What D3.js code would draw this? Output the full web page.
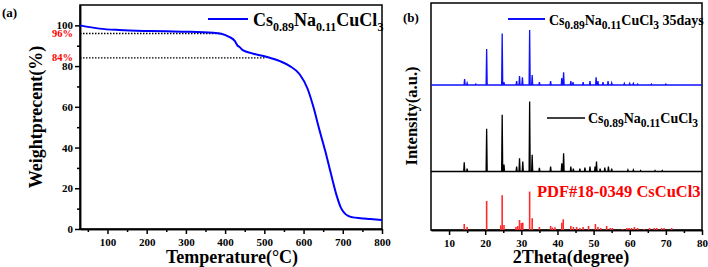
<!DOCTYPE html>
<html>
<head>
<meta charset="utf-8">
<script src="https://cdn.jsdelivr.net/npm/d3@7"></script>
<style>
  body { margin: 0; background: #fff; }
  svg text { font-family: "Liberation Serif", "Times New Roman", serif; font-weight: bold; }
  .axis path, .axis line { stroke: #000; stroke-width: 1.5; }
  .axis text { font-size: 11px; fill: #000; }
</style>
</head>
<body>
<div id="chart"></div>
<script>
// TGA data, panel (a)
var tga_temp   = [30, 80, 130, 210, 290, 370, 390, 410, 425, 432, 436, 445, 470, 505, 540, 565, 590, 610, 625, 640, 655, 670, 685, 695, 705, 715, 726, 745, 770, 800];
var tga_weight = [100, 98.4, 97.7, 97.2, 96.9, 96.4, 95.9, 94.4, 92.3, 90, 89.5, 87.8, 86.2, 84.6, 82.4, 80, 76, 69, 60, 49, 38.5, 27, 16, 10.5, 7.7, 6.3, 5.7, 5.3, 4.9, 4.4];
var tga_marks  = [96, 84];                 // dotted guide levels
var tga_mark_end = [390, 505];             // temperature where each guide stops
var tga_xticks = [100, 200, 300, 400, 500, 600, 700, 800];
var tga_yticks = [0, 20, 40, 60, 80, 100];

// XRD data, panel (b): [2theta, intensity a.u.]
var xrd_35days = [[14.3,6],[15.0,2],[17.4,1],[20.4,36],[24.7,51.6],[25.2,3],[28.7,4],[29.5,9],[30.3,7.6],[32.3,55],[33.0,10],[35.0,3],[38.1,4],[41.2,7],[41.7,12.6],[43.7,4],[44.3,3],[47.1,3],[49.0,4],[50.7,7.6],[51.2,4],[52.6,3],[54.0,4],[55.0,2],[58.5,1.5],[60.0,1.5],[61.0,1.5],[62.2,1],[66.0,1],[70.0,1]];
var xrd_fresh  = [[14.2,9.3],[15.0,3],[20.4,42.7],[24.7,56.7],[25.2,7],[28.7,5],[29.5,13.3],[30.4,10],[32.3,70],[33.0,16.7],[35.0,3.7],[38.1,5],[41.2,8.3],[41.7,18.3],[43.7,5],[44.4,3],[46.2,3],[47.6,4],[49.0,5],[50.4,5],[50.8,10],[51.8,3],[53.1,4],[54.1,5],[55.0,3],[59.5,1.5],[61.0,1.5],[63.0,1],[67.0,1],[69.0,1]];
var xrd_pdf    = [[14.2,6],[15.0,3],[20.4,29],[24.3,4.7],[24.7,34.7],[25.2,5],[28.5,3],[29.0,4],[29.5,10],[30.0,7],[30.4,7.3],[32.3,38.4],[33.0,11.7],[35.0,3],[38.1,4],[38.6,2.5],[39.3,2.7],[41.2,7.3],[41.6,10.7],[43.7,4],[44.4,3],[45.3,3],[46.2,2],[47.1,3],[48.6,4],[50.5,6],[51.2,3],[52.0,2],[53.6,4],[54.6,2],[55.2,2],[58.0,1],[59.2,2],[59.8,2],[60.5,2],[61.3,3],[62.2,2],[64.0,1],[65.5,2],[66.8,2],[67.5,2],[68.8,2],[69.5,2],[71.6,2]];
var xrd_offsets = [145, 58.5, 0];          // vertical stacking (a.u.)
var xrd_xticks = [10, 20, 30, 40, 50, 60, 70, 80];

var svg = d3.select("#chart").append("svg").attr("width", 708).attr("height", 267);

// ---------- panel (a) ----------
var xA = d3.scaleLinear().domain([30, 800]).range([80, 382]);
var yA = d3.scaleLinear().domain([0, 110]).range([229, 5]);

svg.append("rect").attr("x", 80).attr("y", 5).attr("width", 302).attr("height", 224)
   .attr("fill", "none").attr("stroke", "#000").attr("stroke-width", 1.5);

svg.append("g").attr("class", "axis").attr("transform", "translate(0,229)")
   .call(d3.axisBottom(xA).tickValues(tga_xticks.map(function(d){ return d - 50; })).tickSize(3).tickFormat("").tickSizeOuter(0));
svg.append("g").attr("class", "axis").attr("transform", "translate(0,229)")
   .call(d3.axisBottom(xA).tickValues(tga_xticks).tickSize(5).tickPadding(4).tickSizeOuter(0));
svg.append("g").attr("class", "axis").attr("transform", "translate(80,0)")
   .call(d3.axisLeft(yA).tickValues(tga_yticks.slice(0, 5).map(function(d){ return d + 10; })).tickSize(3).tickFormat("").tickSizeOuter(0));
svg.append("g").attr("class", "axis").attr("transform", "translate(80,0)")
   .call(d3.axisLeft(yA).tickValues(tga_yticks).tickSize(5).tickPadding(2).tickSizeOuter(0));

// dotted guide lines
svg.selectAll(".guide").data(tga_marks).enter().append("line")
   .attr("x1", xA(30)).attr("x2", function(d,i){ return xA(tga_mark_end[i]); })
   .attr("y1", function(d){ return yA(d); }).attr("y2", function(d){ return yA(d); })
   .attr("stroke", "#000").attr("stroke-width", 1.3).attr("stroke-dasharray", "1.5,1.5");
svg.selectAll(".guide-label").data(tga_marks).enter().append("text")
   .attr("x", 73).attr("y", function(d){ return yA(d) + 3.5; })
   .attr("text-anchor", "end").attr("font-size", 10.5).attr("fill", "#ff0000")
   .text(function(d){ return d + "%"; });

var tgaLine = d3.line().x(function(d){ return xA(d[0]); }).y(function(d){ return yA(d[1]); }).curve(d3.curveMonotoneX);
svg.append("path").datum(tga_temp.map(function(t,i){ return [t, tga_weight[i]]; }))
   .attr("d", tgaLine).attr("fill", "none").attr("stroke", "#0000ff").attr("stroke-width", 2);

// formula with subscripts
function formula(g, x, y, size, subSize, drop, tail) {
  var t = g.append("text").attr("x", x).attr("y", y).attr("font-size", size);
  var parts = [["Cs",0],["0.89",1],["Na",0],["0.11",1],["CuCl",0],["3",1]];
  if (tail) parts.push([tail,0]);
  parts.forEach(function(p){
    t.append("tspan").attr("font-size", p[1] ? subSize : size)
     .attr("baseline-shift", p[1] ? -drop : 0).text(p[0]);
  });
  return t;
}

svg.append("line").attr("x1", 208).attr("x2", 248).attr("y1", 19).attr("y2", 19)
   .attr("stroke", "#0000ff").attr("stroke-width", 2);
formula(svg, 253, 26, 18, 12, 5);

svg.append("text").attr("x", 2).attr("y", 17).attr("font-size", 13).text("(a)");
svg.append("text").attr("x", 232).attr("y", 263).attr("text-anchor", "middle").attr("font-size", 18).text("Temperature(°C)");
svg.append("text").attr("transform", "translate(42,117) rotate(-90)").attr("text-anchor", "middle").attr("font-size", 18).text("Weightprecent(%)");

// ---------- panel (b) ----------
var xB = d3.scaleLinear().domain([5, 80]).range([431, 702]);
var yB = d3.scaleLinear().domain([0, 227]).range([230, 3]);

svg.append("rect").attr("x", 431).attr("y", 3).attr("width", 271).attr("height", 227)
   .attr("fill", "none").attr("stroke", "#000").attr("stroke-width", 1.5);

svg.append("g").attr("class", "axis").attr("transform", "translate(0,230)")
   .call(d3.axisBottom(xB).tickValues(xrd_xticks.slice(0, 7).map(function(d){ return d + 5; })).tickSize(3).tickFormat("").tickSizeOuter(0));
svg.append("g").attr("class", "axis").attr("transform", "translate(0,230)")
   .call(d3.axisBottom(xB).tickValues(xrd_xticks).tickSize(5).tickPadding(4).tickSizeOuter(0));

function spikes(peaks, off) {
  var pts = [[5, off]];
  peaks.forEach(function(p){
    pts.push([p[0] - 0.15, off], [p[0], off + p[1]], [p[0] + 0.15, off]);
  });
  pts.push([80, off]);
  return pts;
}
var xrdLine = d3.line().x(function(d){ return xB(d[0]); }).y(function(d){ return yB(d[1]); });

svg.append("path").datum(spikes(xrd_35days, xrd_offsets[0])).attr("d", xrdLine)
   .attr("fill", "none").attr("stroke", "#1010ff").attr("stroke-width", 1.3);
svg.append("path").datum(spikes(xrd_fresh, xrd_offsets[1])).attr("d", xrdLine)
   .attr("fill", "none").attr("stroke", "#000").attr("stroke-width", 1.3);
svg.selectAll(".pdf").data(xrd_pdf).enter().append("line")
   .attr("x1", function(d){ return xB(d[0]); }).attr("x2", function(d){ return xB(d[0]); })
   .attr("y1", yB(xrd_offsets[2])).attr("y2", function(d){ return yB(xrd_offsets[2] + d[1]); })
   .attr("stroke", "#ff2a2a").attr("stroke-width", 1.6);

// legends
svg.append("line").attr("x1", 508).attr("x2", 545).attr("y1", 19).attr("y2", 19)
   .attr("stroke", "#1010ff").attr("stroke-width", 2);
formula(svg, 549, 25, 14, 11.5, 4, " 35days");
svg.append("line").attr("x1", 547).attr("x2", 585).attr("y1", 118).attr("y2", 118)
   .attr("stroke", "#000").attr("stroke-width", 1.5);
formula(svg, 588, 123, 14, 11.5, 4);
svg.append("text").attr("x", 537).attr("y", 197).attr("font-size", 16.5).attr("fill", "#ff0000").text("PDF#18-0349 CsCuCl3");

svg.append("text").attr("x", 403).attr("y", 22).attr("font-size", 13).text("(b)");
svg.append("text").attr("x", 571).attr("y", 263).attr("text-anchor", "middle").attr("font-size", 18).text("2Theta(degree)");
svg.append("text").attr("transform", "translate(417,116) rotate(-90)").attr("text-anchor", "middle").attr("font-size", 16.5).text("Intensity(a.u.)");
</script>
</body>
</html>
